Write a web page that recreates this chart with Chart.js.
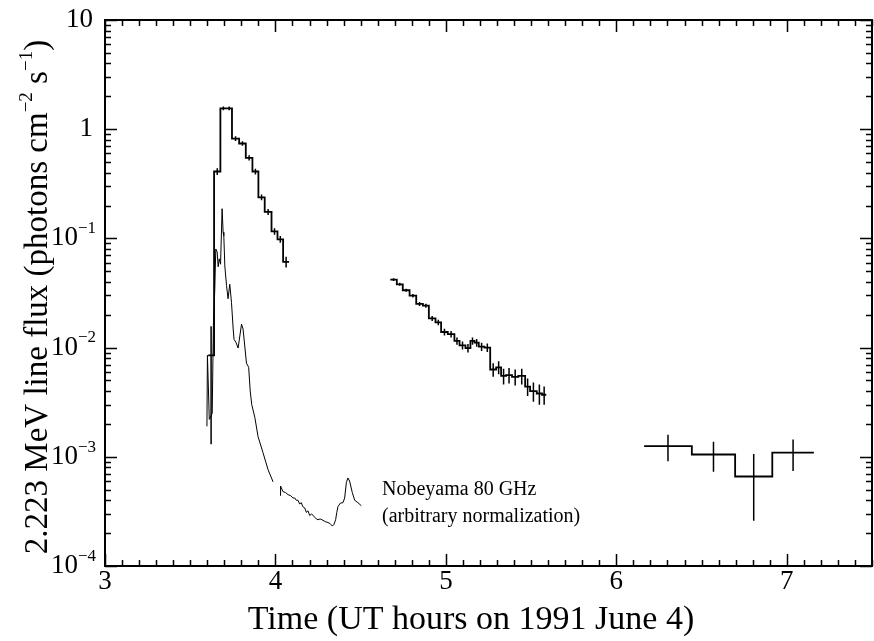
<!DOCTYPE html>
<html>
<head>
<meta charset="utf-8">
<script src="https://cdn.jsdelivr.net/npm/chart.js@4.4.0/dist/chart.umd.min.js"></script>
<style>
  body { margin: 0; background: #fff; }
  canvas { display: block; }
</style>
</head>
<body>
<canvas id="chart" width="874" height="641"></canvas>
<script>
// 2.223 MeV line flux, first orbit (bin edges in UT hours, flux, 1-sigma error)
let early_edges = [3.605, 3.640, 3.677, 3.712, 3.745, 3.787, 3.826, 3.865, 3.900, 3.937, 3.977, 4.012, 4.045, 4.080];
let early_flux = [0.0085, 0.41, 1.55, 1.55, 0.82, 0.74, 0.547, 0.41, 0.238, 0.175, 0.116, 0.098, 0.061];
let early_err = [0.0072, 0.03, 0.06, 0.06, 0.04, 0.035, 0.03, 0.025, 0.014, 0.011, 0.008, 0.007, 0.007];

// second orbit
let mid_edges = [4.674, 4.712, 4.747, 4.787, 4.826, 4.865, 4.900, 4.939, 4.972, 5.011, 5.050, 5.080, 5.115, 5.144,
  5.168, 5.193, 5.226, 5.260, 5.295, 5.324, 5.353, 5.388, 5.425, 5.465, 5.494, 5.533, 5.564, 5.589];
let mid_flux = [0.0419, 0.0380, 0.0335, 0.0299, 0.0251, 0.0242, 0.0185, 0.0170, 0.0139, 0.0133, 0.0115, 0.0105, 0.0099,
  0.0115, 0.0111, 0.0102, 0.0100, 0.0063, 0.0066, 0.0055, 0.0056, 0.0054, 0.0055, 0.0044, 0.0040, 0.0038, 0.0037];
let mid_err = [0.0012, 0.0012, 0.0011, 0.0011, 0.0010, 0.0010, 0.0010, 0.0010, 0.0010, 0.0009, 0.0009, 0.0009, 0.0009,
  0.0009, 0.0009, 0.0009, 0.0009, 0.0009, 0.0009, 0.0009, 0.0009, 0.0009, 0.0009, 0.0008, 0.0008, 0.0008, 0.0007];

// third orbit
let late_edges = [6.163, 6.443, 6.697, 6.915, 7.159];
let late_flux = [0.00125, 0.00105, 0.00066, 0.00109];
let late_err = [0.00034, 0.00032, 0.00040, 0.00035];

// Nobeyama 80 GHz, arbitrary normalization (two pieces)
let nobe1_time = [3.598, 3.601, 3.612, 3.629, 3.636, 3.644, 3.650, 3.658, 3.664, 3.670, 3.678, 3.687, 3.693, 3.697,
  3.703, 3.713, 3.722, 3.732, 3.742, 3.752, 3.757, 3.768, 3.781, 3.801, 3.810, 3.830, 3.843, 3.852, 3.861, 3.879,
  3.898, 3.927, 3.957, 3.986];
let nobe1_flux = [0.0019, 0.0085, 0.0022, 0.0025, 0.016, 0.034, 0.080, 0.075, 0.055, 0.065, 0.058, 0.187, 0.114, 0.106,
  0.056, 0.037, 0.028, 0.038, 0.026, 0.0148, 0.0119, 0.0112, 0.0099, 0.0164, 0.0148, 0.0072, 0.0066, 0.0040, 0.0030,
  0.0023, 0.00153, 0.00109, 0.00076, 0.00059];
let nobe2_time = [4.029, 4.030, 4.044, 4.060, 4.074, 4.090, 4.102, 4.113, 4.122, 4.132, 4.142, 4.152, 4.160, 4.172,
  4.181, 4.191, 4.201, 4.212, 4.230, 4.240, 4.250, 4.262, 4.279, 4.292, 4.308, 4.320, 4.334, 4.343, 4.353, 4.360,
  4.367, 4.381, 4.396, 4.406, 4.416, 4.425, 4.435, 4.451, 4.465, 4.484, 4.504];
let nobe2_flux = [0.00044, 0.00054, 0.00048, 0.00047, 0.00045, 0.00044, 0.00042, 0.00042, 0.00040, 0.00040, 0.00037,
  0.00038, 0.00035, 0.00034, 0.00031, 0.00032, 0.00029, 0.00030, 0.00028, 0.00027, 0.000265, 0.00027, 0.000262,
  0.000255, 0.00025, 0.000245, 0.000232, 0.00024, 0.000265, 0.00031, 0.00035, 0.000377, 0.00038, 0.00042, 0.00058,
  0.00064, 0.00060, 0.00047, 0.00040, 0.00038, 0.000356];

let x_ticks = [3, 4, 5, 6, 7];
let y_exps = [-4, -3, -2, -1, 0, 1];
let annotation = ['Nobeyama 80 GHz', '(arbitrary normalization)'];

const serif = '"Liberation Serif", "DejaVu Serif", serif';

function stepPoints(edges, flux) {
  // histogram: one point per bin start plus the closing edge
  let pts = flux.map((f, i) => ({x: edges[i], y: f}));
  pts.push({x: edges[edges.length - 1], y: flux[flux.length - 1]});
  return pts;
}

function errorPoints(edges, flux, err) {
  // vertical error bars at bin centres, separated by gaps
  let pts = [];
  for (let i = 0; i < flux.length; i++) {
    let mid = (edges[i] + edges[i + 1]) / 2;
    pts.push({x: mid, y: flux[i] - err[i]}, {x: mid, y: flux[i] + err[i]}, {x: mid, y: null});
  }
  return pts;
}

function histSet(pts) {
  return {data: pts, borderColor: '#000', borderWidth: 1.8, pointRadius: 0, stepped: true, fill: false};
}
function errSet(pts) {
  return {data: pts, borderColor: '#000', borderWidth: 1.5, pointRadius: 0, spanGaps: false, fill: false};
}
function lineSet(time, flux) {
  return {data: time.map((t, i) => ({x: t, y: flux[i]})), borderColor: '#000', borderWidth: 1, pointRadius: 0, fill: false};
}

function drawPower(ctx, x, y, exp, size) {
  // draws "10" with a superscript exponent, right aligned at x
  let base = '10', sup = '\u2212' + Math.abs(exp);
  let ssize = Math.round(size * 0.62);
  ctx.font = size + 'px ' + serif;
  let wb = ctx.measureText(base).width;
  ctx.font = ssize + 'px ' + serif;
  let ws = ctx.measureText(sup).width;
  let left = x - wb - ws;
  ctx.font = size + 'px ' + serif;
  ctx.fillText(base, left, y);
  ctx.font = ssize + 'px ' + serif;
  ctx.fillText(sup, left + wb, y - size * 0.36);
}

const axesPlugin = {
  id: 'boxAxes',
  afterDraw(chart) {
    const ctx = chart.ctx;
    const a = chart.chartArea;
    const xs = chart.scales.x, ys = chart.scales.y;
    ctx.save();
    ctx.strokeStyle = '#000';
    ctx.fillStyle = '#000';
    ctx.lineWidth = 2;
    ctx.strokeRect(a.left, a.top, a.right - a.left, a.bottom - a.top);

    // tick marks pointing inwards on all four sides
    ctx.lineWidth = 1.5;
    ctx.beginPath();
    for (let i = 30; i <= 75; i++) {
      let px = Math.round(xs.getPixelForValue(i / 10)) + 0.5;
      let len = i % 10 === 0 ? 12 : 6;
      ctx.moveTo(px, a.bottom); ctx.lineTo(px, a.bottom - len);
      ctx.moveTo(px, a.top); ctx.lineTo(px, a.top + len);
    }
    for (let e = -4; e <= 0; e++) {
      for (let m = 1; m <= 10; m++) {
        let py = Math.round(ys.getPixelForValue(m * Math.pow(10, e))) + 0.5;
        let len = (m === 1 || m === 10) ? 12 : 6;
        ctx.moveTo(a.left, py); ctx.lineTo(a.left + len, py);
        ctx.moveTo(a.right, py); ctx.lineTo(a.right - len, py);
      }
    }
    ctx.stroke();

    // x tick labels
    ctx.font = '27px ' + serif;
    ctx.textAlign = 'center';
    ctx.textBaseline = 'middle';
    x_ticks.forEach(t => ctx.fillText(String(t), xs.getPixelForValue(t), a.bottom + 16));

    // y tick labels
    ctx.textAlign = 'left';
    y_exps.forEach(e => {
      let py = ys.getPixelForValue(Math.pow(10, e));
      if (e === 0 || e === 1) {
        ctx.font = '27px ' + serif;
        ctx.textAlign = 'right';
        ctx.fillText(e === 0 ? '1' : '10', 93, py);
        ctx.textAlign = 'left';
      } else {
        drawPower(ctx, 96, py, e, 27);
      }
    });

    // x title
    ctx.font = '34px ' + serif;
    ctx.textAlign = 'center';
    ctx.fillText('Time (UT hours on 1991 June 4)', 471, 620);

    // y title, rotated, with superscripts
    ctx.save();
    ctx.translate(38, 297);
    ctx.rotate(-Math.PI / 2);
    let parts = [['2.223 MeV line flux (photons cm', 0], ['\u22122', 1], [' s', 0], ['\u22121', 1], [')', 0]];
    let widths = parts.map(p => {
      ctx.font = (p[1] ? 19 : 33) + 'px ' + serif;
      return ctx.measureText(p[0]).width;
    });
    let x0 = -widths.reduce((s, w) => s + w, 0) / 2;
    ctx.textAlign = 'left';
    parts.forEach((p, i) => {
      ctx.font = (p[1] ? 19 : 33) + 'px ' + serif;
      ctx.fillText(p[0], x0, p[1] ? -11 : 0);
      x0 += widths[i];
    });
    ctx.restore();

    // annotation
    ctx.font = '20px ' + serif;
    ctx.textAlign = 'left';
    ctx.fillText(annotation[0], 382, 490);
    ctx.fillText(annotation[1], 382, 517);
    ctx.restore();
  }
};

new Chart(document.getElementById('chart'), {
  type: 'line',
  data: {
    datasets: [
      histSet(stepPoints(early_edges, early_flux)),
      errSet(errorPoints(early_edges, early_flux, early_err)),
      histSet(stepPoints(mid_edges, mid_flux)),
      errSet(errorPoints(mid_edges, mid_flux, mid_err)),
      histSet(stepPoints(late_edges, late_flux)),
      errSet(errorPoints(late_edges, late_flux, late_err)),
      lineSet(nobe1_time, nobe1_flux),
      lineSet(nobe2_time, nobe2_flux)
    ]
  },
  options: {
    responsive: false,
    animation: false,
    devicePixelRatio: 1,
    layout: {padding: {left: 105, top: 20, right: 2, bottom: 75}},
    plugins: {legend: {display: false}, tooltip: {enabled: false}},
    scales: {
      x: {type: 'linear', min: 3, max: 7.5, display: false},
      y: {type: 'logarithmic', min: 0.0001, max: 10, display: false}
    }
  },
  plugins: [axesPlugin]
});
</script>
</body>
</html>
